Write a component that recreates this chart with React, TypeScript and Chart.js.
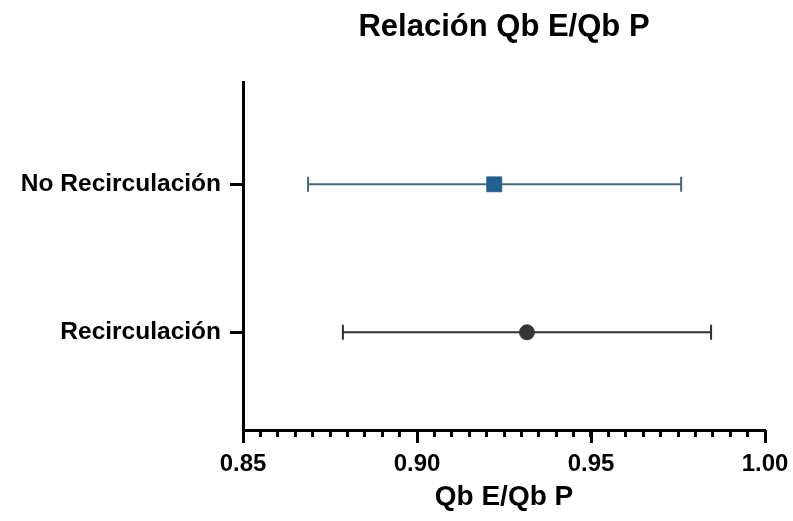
import React, { useEffect, useRef } from 'react';
import { Chart, registerables } from 'chart.js';

Chart.register(...registerables);

// ---- data ----
const categories = ['Recirculación', 'No Recirculación'];
const categoryPositions = [1, 2];
const means = [0.9316, 0.9222];
const lowerBounds = [0.8787, 0.8687];
const upperBounds = [0.9845, 0.9759];
const xMajorTicks = [0.85, 0.9, 0.95, 1.0];
const markerStyles = ['circle', 'rect'];
const markerColors = ['#363636', '#22608f'];
const barColors = ['#2e2e2e', '#45697b'];

const FONT = '"Liberation Sans", Arial, Helvetica, sans-serif';

const isMajor = (v: number) => xMajorTicks.some((m) => Math.abs(m - v) < 1e-6);

const majorTickPlugin = {
  id: 'majorTicks',
  afterDraw(chart: any) {
    const xs = chart.scales.x;
    const ctx = chart.ctx;
    const bottom = chart.chartArea.bottom;
    ctx.save();
    ctx.strokeStyle = '#000';
    ctx.lineWidth = 3;
    xMajorTicks.forEach((v) => {
      const px = Math.round(xs.getPixelForValue(v)) + 0.5;
      ctx.beginPath();
      ctx.moveTo(px, bottom);
      ctx.lineTo(px, bottom + 13);
      ctx.stroke();
    });
    ctx.restore();
  },
};

export default function App() {
  const ref = useRef<HTMLCanvasElement | null>(null);

  useEffect(() => {
    if (!ref.current) return;
    const markerSets = categories.map((c, i) => ({
      label: c,
      data: [{ x: means[i], y: categoryPositions[i] }],
      pointStyle: markerStyles[i],
      pointRadius: markerStyles[i] === 'rect' ? 10.5 : 7.5,
      backgroundColor: markerColors[i],
      borderColor: markerColors[i],
      borderWidth: 1,
      showLine: false,
      order: 0,
    }));
    const barSets = categories.map((c, i) => ({
      label: c + ' error',
      data: [
        { x: lowerBounds[i], y: categoryPositions[i] },
        { x: upperBounds[i], y: categoryPositions[i] },
      ],
      showLine: true,
      borderColor: barColors[i],
      borderWidth: 2,
      pointStyle: 'line',
      pointRotation: 90,
      pointRadius: 7.5,
      pointBorderWidth: 2,
      pointBorderColor: barColors[i],
      pointBackgroundColor: barColors[i],
      order: 1,
    }));

    const chart = new Chart(ref.current, {
      type: 'scatter',
      data: { datasets: [...markerSets, ...barSets] as any },
      options: {
        animation: false,
        responsive: false,
        layout: { padding: { left: 0, right: 28, top: 0, bottom: 0 } },
        plugins: {
          legend: { display: false },
          tooltip: { enabled: false },
          title: {
            display: true,
            text: 'Relación Qb E/Qb P',
            fullSize: false,
            color: '#000',
            font: { family: FONT, size: 31, weight: 'bold' },
            padding: { top: 9, bottom: 36 },
          },
        },
        scales: {
          x: {
            type: 'linear',
            min: 0.85,
            max: 1.0,
            ticks: {
              stepSize: 0.005,
              autoSkip: false,
              maxRotation: 0,
              minRotation: 0,
              padding: 13,
              color: '#000',
              font: { family: FONT, size: 24, weight: 'bold' },
              callback: (v: any) => (isMajor(Number(v)) ? Number(v).toFixed(2) : ''),
            },
            grid: { drawOnChartArea: false, tickLength: 7, tickWidth: 3, tickColor: '#000' },
            border: { display: true, color: '#000', width: 3 },
            title: {
              display: true,
              text: 'Qb E/Qb P',
              color: '#000',
              font: { family: FONT, size: 28, weight: 'bold' },
              padding: { top: 0, bottom: 7 },
            },
            afterFit: (s: any) => {
              s.height = 91;
              s.paddingLeft = 0;
              s.paddingRight = 0;
            },
          },
          y: {
            type: 'linear',
            min: 0.34,
            max: 2.69,
            afterBuildTicks: (s: any) => {
              s.ticks = categoryPositions.map((v) => ({ value: v }));
            },
            ticks: {
              padding: 9,
              color: '#000',
              font: { family: FONT, size: 24.5, weight: 'bold' },
              callback: (v: any) => {
                const idx = categoryPositions.indexOf(Number(v));
                return idx >= 0 ? categories[idx] : '';
              },
            },
            grid: { drawOnChartArea: false, tickLength: 13, tickWidth: 3, tickColor: '#000' },
            border: { display: true, color: '#000', width: 3 },
            afterFit: (s: any) => {
              s.width = 243;
              s.paddingTop = 0;
              s.paddingBottom = 0;
            },
          },
        },
      } as any,
      plugins: [majorTickPlugin],
    });
    return () => chart.destroy();
  }, []);

  return (
    <div style={{ position: 'fixed', left: 0, top: 0, width: 793, height: 521, background: '#fff' }}>
      <canvas ref={ref} width={793} height={521} style={{ display: 'block' }} />
    </div>
  );
}
